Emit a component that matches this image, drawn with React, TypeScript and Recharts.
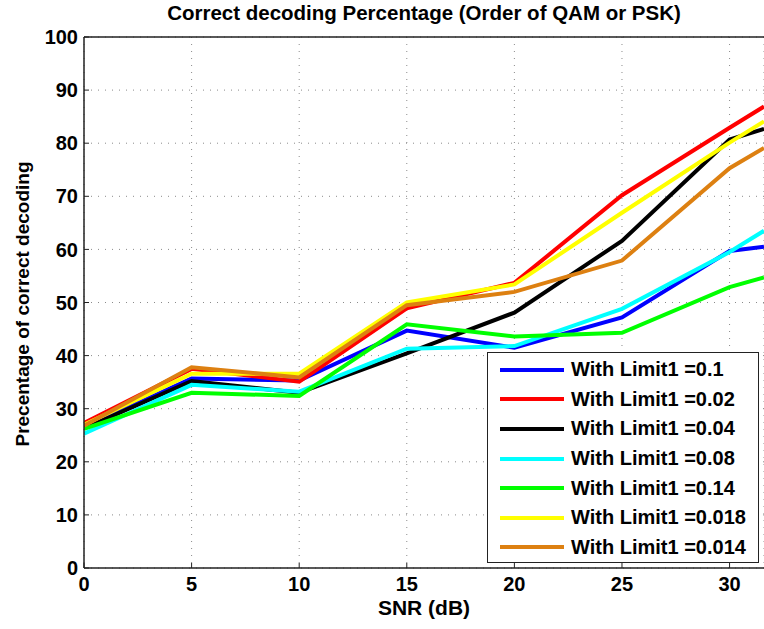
import { LineChart, Line, XAxis, YAxis, CartesianGrid, Legend, ReferenceLine } from "recharts";

const snr = [0, 5, 10, 15, 20, 25, 30, 31.6];
const limit01 = [26.4, 35.7, 35.3, 44.7, 41.5, 47.2, 59.7, 60.5];
const limit002 = [27.3, 37.5, 35.1, 48.9, 53.7, 70.2, 82.9, 86.9];
const limit004 = [26.3, 35.2, 33.0, 40.4, 48.1, 61.6, 80.7, 82.7];
const limit008 = [25.3, 34.5, 33.2, 41.3, 41.8, 48.8, 59.5, 63.5];
const limit014 = [26.2, 33.0, 32.4, 45.9, 43.6, 44.3, 52.9, 54.7];
const limit0018 = [27.0, 36.6, 36.6, 50.0, 53.4, 66.9, 80.1, 84.1];
const limit0014 = [26.8, 37.8, 35.9, 49.5, 52.0, 57.9, 75.3, 79.1];

const xTicks = [0, 5, 10, 15, 20, 25, 30];
const yTicks = [0, 10, 20, 30, 40, 50, 60, 70, 80, 90, 100];

const series = [
  { key: "l01", name: "With Limit1 =0.1", color: "#0000ff", values: limit01 },
  { key: "l002", name: "With Limit1 =0.02", color: "#ff0000", values: limit002 },
  { key: "l004", name: "With Limit1 =0.04", color: "#000000", values: limit004 },
  { key: "l008", name: "With Limit1 =0.08", color: "#00ffff", values: limit008 },
  { key: "l014", name: "With Limit1 =0.14", color: "#00ff00", values: limit014 },
  { key: "l0018", name: "With Limit1 =0.018", color: "#ffff00", values: limit0018 },
  { key: "l0014", name: "With Limit1 =0.014", color: "#dd8011", values: limit0014 },
];

const data = snr.map((x, i) => {
  const row: Record<string, number> = { snr: x };
  series.forEach((s) => (row[s.key] = s.values[i]));
  return row;
});

const FONT = "'Liberation Sans', Arial, Helvetica, sans-serif";

function LegendBox() {
  return (
    <div
      style={{
        width: 272,
        height: 211,
        boxSizing: "border-box",
        border: "1.5px solid #222",
        background: "#fff",
        padding: "2px 0 0 12px",
        fontFamily: FONT,
        fontWeight: "bold",
        fontSize: 20,
        color: "#000",
      }}
    >
      {series.map((s) => (
        <div key={s.key} style={{ display: "flex", alignItems: "center", height: 29.6 }}>
          <svg width={64} height={8} style={{ marginRight: 7 }}>
            <line x1={0} y1={4} x2={64} y2={4} stroke={s.color} strokeWidth={4} />
          </svg>
          <span>{s.name}</span>
        </div>
      ))}
    </div>
  );
}

export default function App() {
  const tickStyle = { fill: "#000", fontSize: 20, fontWeight: "bold", fontFamily: FONT };
  const labelStyle = { fontFamily: FONT, fontWeight: "bold", color: "#000" } as const;
  return (
    <div style={{ position: "absolute", left: 0, top: 0, width: 764, height: 629, background: "#fff", overflow: "hidden" }}>
      <div style={{ ...labelStyle, position: "absolute", left: 84, width: 680, top: 1, textAlign: "center", fontSize: 20.5 }}>
        Correct decoding Percentage (Order of QAM or PSK)
      </div>
      <div
        style={{
          ...labelStyle,
          position: "absolute",
          left: 84,
          width: 680,
          top: 597,
          textAlign: "center",
          fontSize: 21,
          lineHeight: "21px",
        }}
      >
        SNR (dB)
      </div>
      <div
        style={{
          ...labelStyle,
          position: "absolute",
          left: 23,
          top: 304,
          transform: "translate(-50%, -50%) rotate(-90deg)",
          whiteSpace: "nowrap",
          fontSize: 19,
        }}
      >
        Precentage of correct decoding
      </div>
      <LineChart
        width={764}
        height={629}
        data={data}
        margin={{ top: 37, right: 0, bottom: 0, left: 0 }}
        style={{ position: "absolute", left: 0, top: 0 }}
      >
        <CartesianGrid stroke="#8a8a8a" strokeDasharray="1 6" />
        <XAxis
          dataKey="snr"
          type="number"
          domain={[0, 31.6]}
          ticks={xTicks}
          allowDataOverflow
          height={61}
          tickSize={-5}
          tickMargin={14}
          tick={tickStyle}
          axisLine={{ stroke: "#222", strokeWidth: 1.5 }}
          tickLine={{ stroke: "#222" }}
        />
        <YAxis
          type="number"
          domain={[0, 100]}
          ticks={yTicks}
          width={84}
          tickSize={-5}
          tickMargin={11}
          tick={tickStyle}
          axisLine={{ stroke: "#222", strokeWidth: 1.5 }}
          tickLine={{ stroke: "#222" }}
        />
        <ReferenceLine y={100} stroke="#222" strokeWidth={1.5} />
        {series.map((s) => (
          <Line
            key={s.key}
            dataKey={s.key}
            name={s.name}
            stroke={s.color}
            strokeWidth={4}
            dot={false}
            type="linear"
            isAnimationActive={false}
          />
        ))}
        <Legend
          layout="vertical"
          align="center"
          verticalAlign="middle"
          content={() => <LegendBox />}
          wrapperStyle={{ left: 487, top: 352, width: 272, height: 211 }}
        />
      </LineChart>
    </div>
  );
}
